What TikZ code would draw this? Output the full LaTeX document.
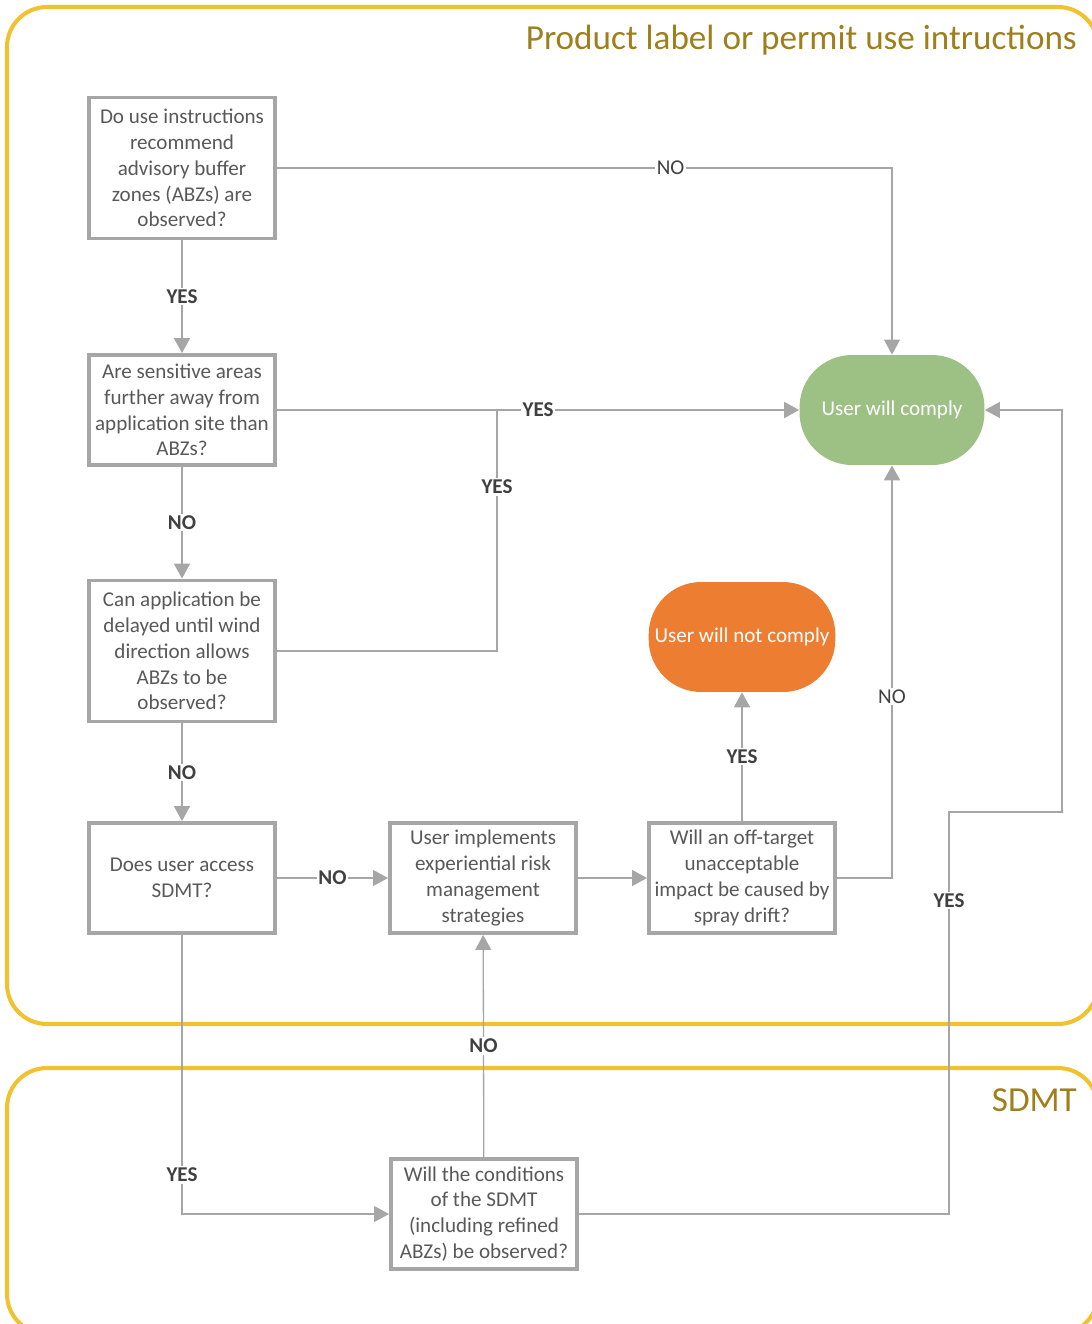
\documentclass[tikz,border=0pt]{standalone}
\usepackage{fontspec}
\setmainfont{Carlito}
\usetikzlibrary{arrows.meta}
\definecolor{laneyellow}{HTML}{F2C12E}
\definecolor{lanetitle}{HTML}{9E7F1C}
\definecolor{boxgray}{HTML}{A6A6A6}
\definecolor{textgray}{HTML}{595959}
\definecolor{labelgray}{HTML}{404040}
\definecolor{okgreen}{HTML}{9DC184}
\definecolor{notorange}{HTML}{ED7D31}
\tikzset{
  flow/.style = {draw=boxgray, line width=1.2pt, -{Triangle[width=9pt,length=8.5pt]}},
  thinflow/.style = {flow, line width=0.75pt},
  answer/.style = {fill=white, text=labelgray, inner sep=1pt, font=\fontsize{12}{14}\selectfont\bfseries},
  terminal/.style = {minimum width=3.7cm, minimum height=2.2cm, rounded corners=1.05cm, text=white, font=\fontsize{12}{14}\selectfont}
}
\begin{document}
\begin{tikzpicture}[x=0.02cm, y=-0.02cm]
\useasboundingbox (0,0) rectangle (1091,1324);
% swimlanes
\draw[laneyellow, line width=2.3pt, rounded corners=0.8cm] (7,7) rectangle (1098,1024);
\draw[laneyellow, line width=2.3pt, rounded corners=0.8cm] (7,1068) rectangle (1098,1334);
\node[lanetitle, anchor=east, font=\fontsize{20}{22}\selectfont] (lanelabel) at (1083,40) {Product label or permit use intructions};
\node[lanetitle, anchor=east, font=\fontsize{20}{22}\selectfont] (lanesdmt) at (1083,1100) {SDMT};
\begin{scope}[every node/.style = {draw=boxgray, line width=2.2pt, fill=white, text=textgray, align=center, minimum width=3.72cm, inner sep=2pt, font=\fontsize{12}{14.7}\selectfont}]
\node[minimum height=2.82cm] (q1) at (182,168) {Do use instructions\\recommend\\advisory buffer\\zones (ABZs) are\\observed?};
\node[minimum height=2.2cm] (q2) at (182,410) {Are sensitive areas\\further away from\\application site than\\ABZs?};
\node[minimum height=2.82cm] (q3) at (182,651) {Can application be\\delayed until wind\\direction allows\\ABZs to be\\observed?};
\node[minimum height=2.2cm] (q4) at (182,878) {Does user access\\SDMT?};
\node[minimum height=2.2cm] (q5) at (483,878) {User implements\\experiential risk\\management\\strategies};
\node[minimum height=2.2cm] (q6) at (742,878) {Will an off-target\\unacceptable\\impact be caused by\\spray drift?};
\node[minimum height=2.2cm] (q7) at (484,1214) {Will the conditions\\of the SDMT\\(including refined\\ABZs) be observed?};
\end{scope}
\node[terminal, fill=okgreen] (comply) at (892,410) {User will comply};
\node[terminal, fill=notorange] (nocomply) at (742,637) {User will not comply};
\coordinate (join) at (497,410);
\coordinate (loopa) at (949,812);
\coordinate (loopb) at (1062,812);
\begin{scope}[every edge/.style = {flow}, every node/.style = {answer}]
\path (q1) edge node {YES} (q2);
\path (q2) edge node {NO} (q3);
\path (q3) edge node {NO} (q4);
\path (q2.east) edge node[pos=0.5] {YES} (comply.west);
\path (q4) edge[thinflow] node {NO} (q5);
\path (q5) edge[thinflow] (q6);
\path (q6) edge node {YES} (nocomply);
\path (q7) edge[thinflow] node {NO} (q5);
\draw[thinflow] (q1.east) -| node[pos=0.32, font=\fontsize{12}{14}\selectfont] {NO} (comply.north);
\draw[thinflow, -] (q3.east) -| node[pos=0.84] {YES} (join);
\draw[flow] (q6.east) -| node[pos=0.72, font=\fontsize{12}{14}\selectfont] {NO} (comply.south);
\draw[thinflow] (q4.south) |- node[pos=0.43] {YES} (q7.west);
\draw[thinflow] (q7.east) -| node[pos=0.89] {YES} (loopa) -- (loopb) |- (comply.east);
\end{scope}
\end{tikzpicture}
\end{document}
